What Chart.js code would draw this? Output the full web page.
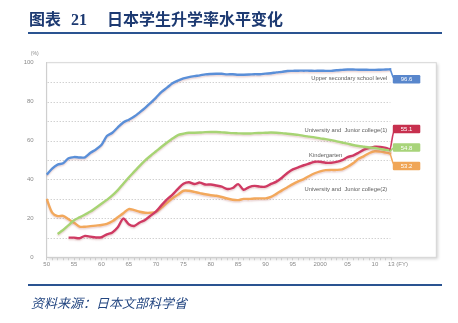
<!DOCTYPE html>
<html>
<head>
<meta charset="utf-8">
<script src="https://cdn.jsdelivr.net/npm/chart.js@4.4.1/dist/chart.umd.min.js"></script>
<style>
  html, body { margin: 0; padding: 0; background: #fff; width: 458px; height: 323px; overflow: hidden; }
  #chart { position: absolute; left: 0; top: 0; }
  .title { position: absolute; left: 29px; top: 12px; font: bold 16px/16px "Liberation Serif", "Noto Sans CJK SC", serif; color: #1d3a72; white-space: nowrap; }
  .title .num { margin-left: 10px; margin-right: 20px; }
  .rule { position: absolute; left: 28px; width: 414px; background: #2a5391; }
  .source { position: absolute; left: 31px; top: 296px; font: italic 13px/13px "Noto Sans CJK SC", sans-serif; color: #234681; white-space: nowrap; }
</style>
</head>
<body>
<canvas id="chart" width="458" height="323"></canvas>
<div class="title">图表<span class="num">21</span>日本学生升学率水平变化</div>
<div class="rule" style="top:32px;height:2px;"></div>
<div class="rule" style="top:284px;height:2px;"></div>
<div class="source">资料来源：日本文部科学省</div>

<script>
// fiscal years on the x axis
const years = [
  1950, 1951, 1952, 1953, 1954, 1955, 1956, 1957, 1958, 1959,
  1960, 1961, 1962, 1963, 1964, 1965, 1966, 1967, 1968, 1969,
  1970, 1971, 1972, 1973, 1974, 1975, 1976, 1977, 1978, 1979,
  1980, 1981, 1982, 1983, 1984, 1985, 1986, 1987, 1988, 1989,
  1990, 1991, 1992, 1993, 1994, 1995, 1996, 1997, 1998, 1999,
  2000, 2001, 2002, 2003, 2004, 2005, 2006, 2007, 2008, 2009,
  2010, 2011, 2012, 2013
];

// advancement rates, %
const upperSecondary = [
  42.5, 45.6, 47.6, 48.3, 50.9, 51.5, 51.3, 51.4, 53.7, 55.4,
  57.7, 62.3, 64.0, 66.8, 69.3, 70.7, 72.3, 74.5, 76.8, 79.4,
  82.1, 85.0, 87.2, 89.4, 90.8, 91.9, 92.6, 93.1, 93.5, 94.0,
  94.2, 94.3, 94.3, 94.0, 94.1, 93.8, 93.8, 93.9, 94.1, 94.1,
  94.4, 94.6, 95.0, 95.3, 95.7, 95.8, 95.9, 95.9, 95.9, 95.8,
  95.9, 95.8, 95.8, 96.1, 96.3, 96.5, 96.5, 96.4, 96.4, 96.3,
  96.3, 96.4, 96.5, 96.6
];
const kindergarten = [
  null, null, 12.0, 14.0, 16.5, 19.0, 20.5, 22.0, 23.5, 25.5,
  27.5, 29.5, 31.8, 34.5, 37.8, 41.0, 44.0, 47.0, 49.8, 52.2,
  54.5, 56.8, 59.0, 61.0, 62.8, 63.5, 64.0, 64.0, 64.1, 64.3,
  64.4, 64.4, 64.2, 64.0, 63.8, 63.7, 63.6, 63.6, 63.8, 63.9,
  64.0, 64.1, 64.0, 63.8, 63.5, 63.2, 62.9, 62.4, 62.0, 61.6,
  61.1, 60.7, 60.2, 59.6, 59.0, 58.4, 57.7, 57.2, 56.8, 56.4,
  56.2, 55.7, 55.2, 54.8
];
const univCollege1 = [
  null, null, null, null, 10.1, 10.1, 9.8, 11.0, 10.6, 10.2,
  10.3, 11.8, 12.8, 15.4, 19.9, 17.0, 16.1, 17.9, 19.2, 21.4,
  23.6, 26.8, 29.8, 32.2, 35.2, 37.8, 38.6, 37.7, 38.4, 37.4,
  37.4, 36.9, 36.3, 35.1, 35.6, 37.6, 34.7, 36.1, 36.7, 36.3,
  36.3, 37.7, 38.9, 40.9, 43.3, 45.2, 46.2, 47.3, 48.2, 49.1,
  49.1, 48.6, 48.6, 49.0, 49.9, 51.5, 52.3, 53.7, 55.3, 56.2,
  56.8, 56.7, 56.2, 55.1
];
const univCollege2 = [
  30.0, 23.0, 21.2, 21.3, 19.5, 17.8, 15.8, 15.7, 16.0, 16.3,
  16.6, 17.2, 18.5, 20.6, 22.6, 24.8, 24.2, 23.4, 22.9, 22.9,
  23.4, 25.5, 28.0, 30.3, 32.2, 34.2, 34.2, 33.6, 33.0, 32.4,
  31.9, 31.6, 31.0, 30.2, 29.6, 29.4, 30.0, 30.0, 30.2, 30.3,
  30.3, 31.0, 32.6, 34.4, 36.0, 37.6, 39.0, 40.2, 41.8, 43.2,
  44.2, 44.8, 44.9, 44.9, 45.2, 46.5, 48.3, 50.6, 52.0, 53.6,
  54.5, 54.3, 53.8, 53.2
];

const seriesNames = ['Upper secondary school level', 'Kindergarten', 'University and  Junior college(1)', 'University and  Junior college(2)'];
const lineColors = ['#5a8fd8', '#a7d474', '#cf3a63', '#f2a85c'];
const boxColors = ['#5886cc', '#a8d47a', '#c7304e', '#f0a657'];
const endLabels = ['96.6', '54.8', '55.1', '53.2'];
// where each end-label box sits, in % units
const endLabelAt = [91.5, 56.4, 65.9, 46.9];

// in-plot captions: [text, year index or null (= right aligned), % position]
const captions = [
  ['Upper secondary school level', null, 91.9],
  ['University and  Junior college(1)', null, 65.0],
  ['Kindergarten', 51, 52.5],
  ['University and  Junior college(2)', null, 35.1]
];

Chart.defaults.font.family = '"Liberation Sans", Arial, sans-serif';

const tickLabel = (i) => {
  const yr = years[i];
  if (yr === 2013) return '13';
  if (yr % 5 !== 0) return '';
  if (yr < 2000) return String(yr - 1900);
  if (yr === 2000) return '2000';
  return String(yr - 2000).padStart(2, '0');
};

// light grey frame with a soft shadow around the plot
const framePlugin = {
  id: 'frame',
  beforeDraw(chart) {
    const { ctx, chartArea: a } = chart;
    const right = a.right + 45;
    ctx.save();
    ctx.shadowColor = 'rgba(0,0,0,0.18)';
    ctx.shadowBlur = 3;
    ctx.shadowOffsetX = 1.5;
    ctx.shadowOffsetY = 1.5;
    ctx.fillStyle = '#fff';
    ctx.fillRect(a.left, a.top, right - a.left, a.bottom - a.top);
    ctx.restore();
    ctx.save();
    ctx.strokeStyle = '#d6d6d6';
    ctx.lineWidth = 1;
    ctx.strokeRect(a.left, a.top, right - a.left, a.bottom - a.top);
    ctx.restore();
  },
  beforeDatasetsDraw(chart) {
    const { ctx, chartArea: a, scales: { x, y } } = chart;
    ctx.save();
    ctx.strokeStyle = '#bdbdbd';
    ctx.lineWidth = 1;
    ctx.setLineDash([1, 2]);
    for (let v = 10; v < 100; v += 10) {
      const py = Math.round(y.getPixelForValue(v)) + 0.5;
      ctx.beginPath();
      ctx.moveTo(a.left + 1, py);
      ctx.lineTo(a.right - 1, py);
      ctx.stroke();
    }
    ctx.setLineDash([]);
    ctx.fillStyle = '#5c5c5c';
    ctx.font = '5.8px "Liberation Sans", Arial, sans-serif';
    ctx.textBaseline = 'middle';
    captions.forEach(([text, idx, pos]) => {
      const py = y.getPixelForValue(pos);
      if (idx === null) {
        ctx.textAlign = 'right';
        ctx.fillText(text, a.right - 4, py);
      } else {
        ctx.textAlign = 'center';
        ctx.fillText(text, x.getPixelForValue(idx), py);
      }
    });
    ctx.restore();
  }
};

// faint drop shadow under each line
const shadowPlugin = {
  id: 'lineShadow',
  beforeDatasetDraw(chart) {
    const ctx = chart.ctx;
    ctx.save();
    ctx.shadowColor = 'rgba(190,120,120,0.3)';
    ctx.shadowBlur = 1.5;
    ctx.shadowOffsetY = 1.5;
  },
  afterDatasetDraw(chart) {
    chart.ctx.restore();
  }
};

// leader lines + value boxes at the right end, axis units
const endLabelPlugin = {
  id: 'endLabels',
  afterDatasetsDraw(chart) {
    const { ctx, chartArea: a, scales: { x, y } } = chart;
    const last = years.length - 1;
    const bx = a.right + 1.5, bw = 27.5, bh = 8.5;
    ctx.save();
    chart.data.datasets.forEach((ds, i) => {
      const ex = x.getPixelForValue(last);
      const ey = y.getPixelForValue(ds.data[last]);
      const cy = y.getPixelForValue(endLabelAt[i]);
      ctx.strokeStyle = lineColors[i];
      ctx.lineWidth = 1.6;
      ctx.beginPath();
      ctx.moveTo(ex - 2, ey);
      ctx.bezierCurveTo(ex + 0.5, ey, bx - 1, cy, bx + 3, cy);
      ctx.stroke();
    });
    chart.data.datasets.forEach((ds, i) => {
      const cy = y.getPixelForValue(endLabelAt[i]);
      ctx.fillStyle = boxColors[i];
      ctx.beginPath();
      ctx.roundRect(bx, cy - bh / 2, bw, bh, 1.2);
      ctx.fill();
      ctx.fillStyle = '#fff';
      ctx.font = '6px "Liberation Sans", Arial, sans-serif';
      ctx.textAlign = 'center';
      ctx.textBaseline = 'middle';
      ctx.fillText(endLabels[i], bx + bw / 2, cy + 0.3);
    });
    // unit captions
    ctx.fillStyle = '#8a8a8a';
    ctx.font = '5px "Liberation Sans", Arial, sans-serif';
    ctx.textAlign = 'center';
    ctx.textBaseline = 'middle';
    ctx.fillText('(%)', a.left - 12, a.top - 9);
    ctx.font = '6px "Liberation Sans", Arial, sans-serif';
    ctx.textAlign = 'left';
    ctx.fillText('(FY)', x.getPixelForValue(last) + 5, a.bottom + 7);
    ctx.restore();
  }
};

const makeSet = (label, data, i) => ({
  label, data,
  borderColor: lineColors[i],
  backgroundColor: lineColors[i],
  borderWidth: 2.4,
  pointRadius: 0,
  tension: 0.3,
  spanGaps: false,
  fill: false
});

new Chart(document.getElementById('chart'), {
  type: 'line',
  data: {
    labels: years,
    datasets: [
      makeSet(seriesNames[0], upperSecondary, 0),
      makeSet(seriesNames[1], kindergarten, 1),
      makeSet(seriesNames[2], univCollege1, 2),
      makeSet(seriesNames[3], univCollege2, 3)
    ]
  },
  options: {
    responsive: false,
    animation: false,
    layout: { padding: { left: 0, top: 62.7, right: 66.7, bottom: 51.7 } },
    plugins: { legend: { display: false }, tooltip: { enabled: false } },
    scales: {
      x: {
        grid: { display: true, drawOnChartArea: false, drawTicks: true, tickLength: 3, color: '#cccccc' },
        border: { display: true, color: '#cfcfcf' },
        ticks: {
          autoSkip: false, maxRotation: 0, minRotation: 0, padding: 0,
          color: '#8a8a8a', font: { size: 6 },
          callback: (v, i) => tickLabel(i)
        },
        afterFit(scale) { scale.height = 14; }
      },
      y: {
        min: 0, max: 100,
        grid: { display: false },
        border: { display: true, color: '#cfcfcf' },
        ticks: { stepSize: 20, padding: 5, color: '#8a8a8a', font: { size: 6 } },
        afterFit(scale) { scale.width = 46.7; }
      }
    }
  },
  plugins: [framePlugin, shadowPlugin, endLabelPlugin]
});
</script>
</body>
</html>
